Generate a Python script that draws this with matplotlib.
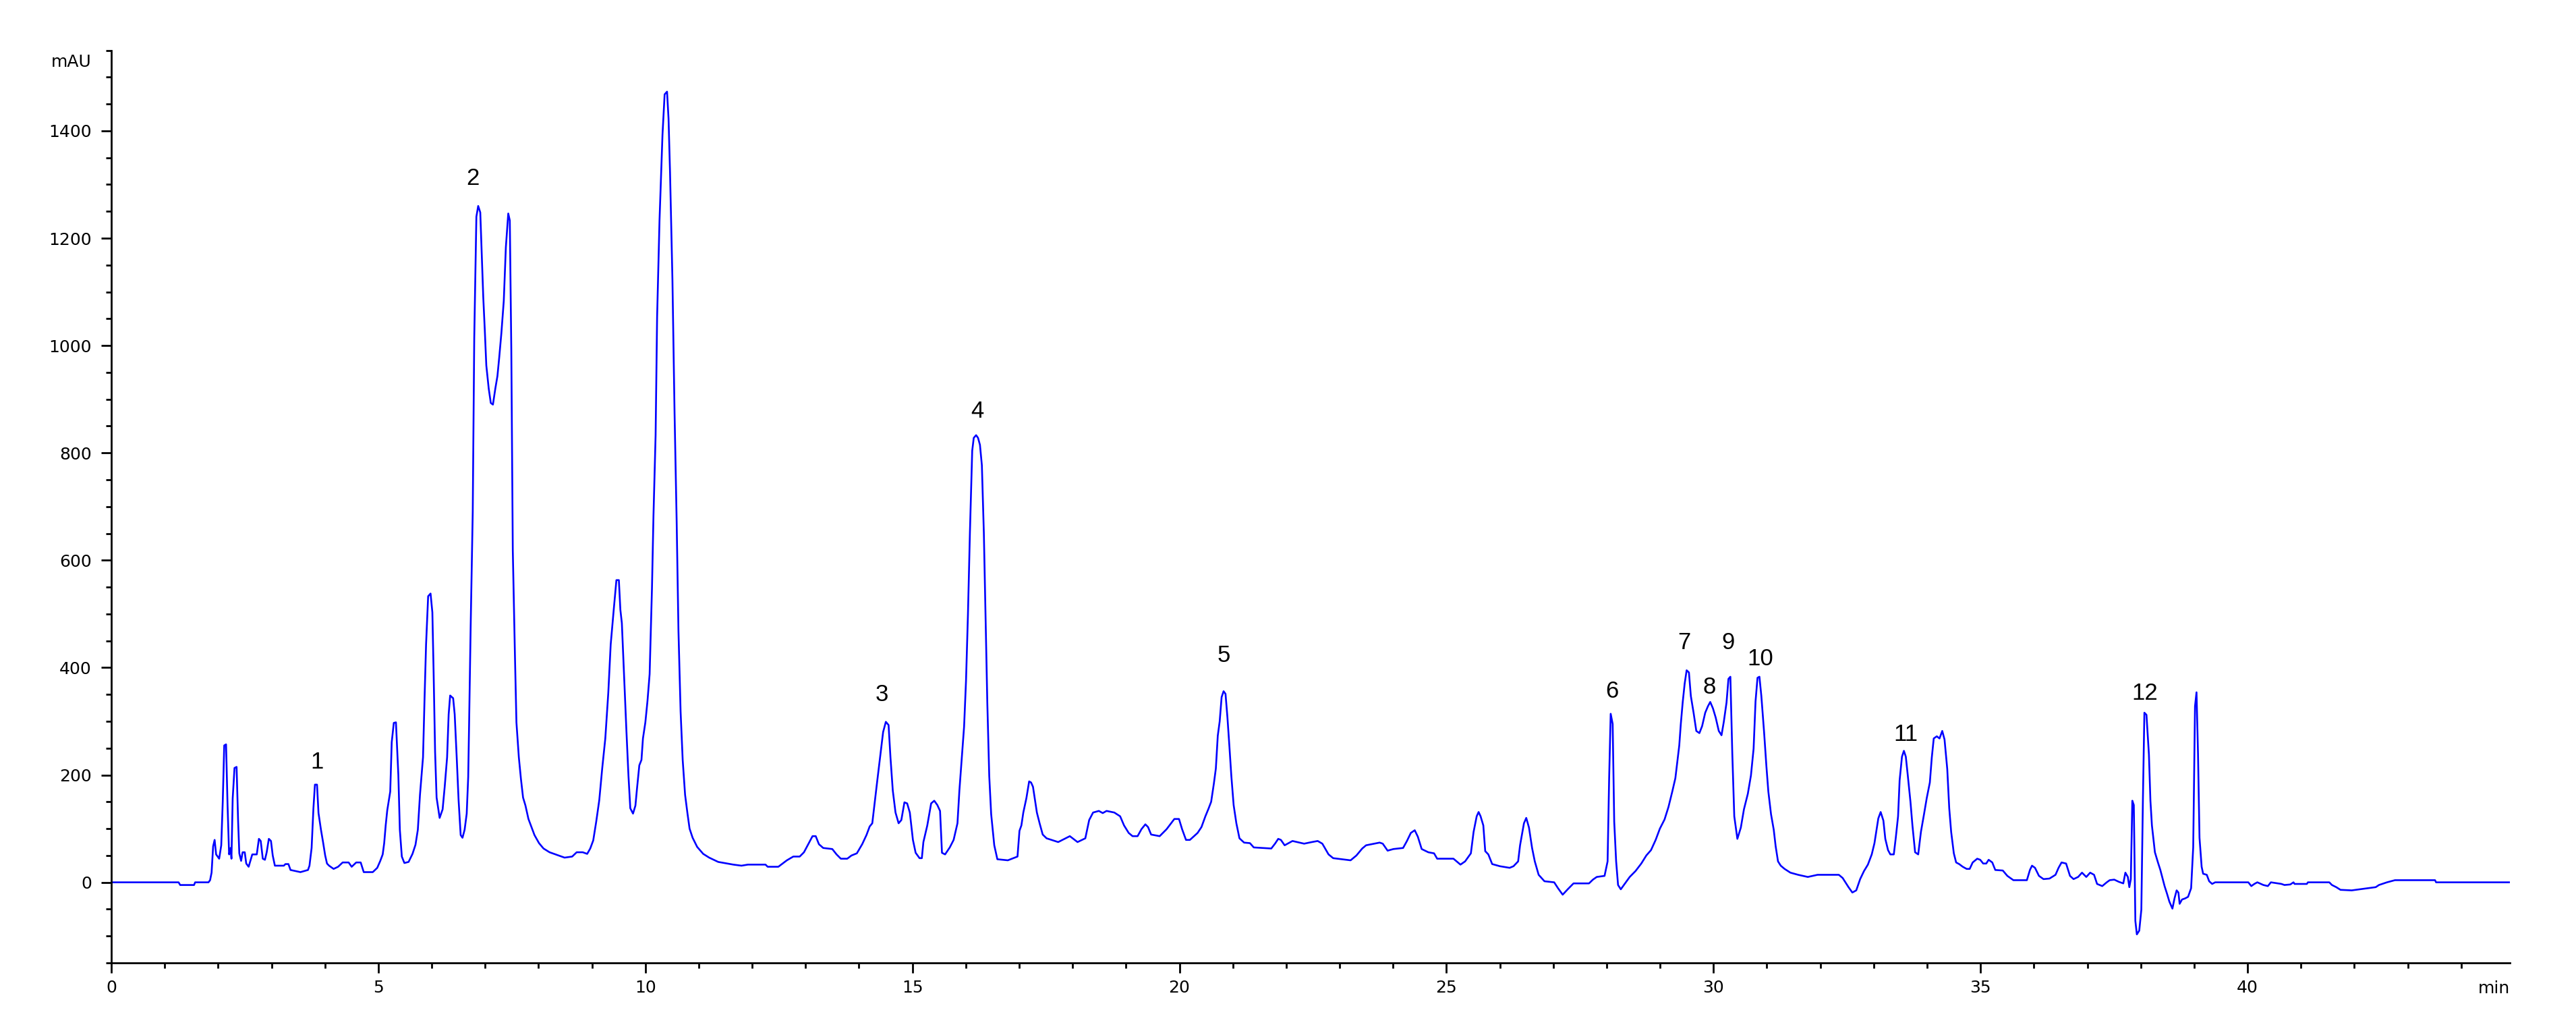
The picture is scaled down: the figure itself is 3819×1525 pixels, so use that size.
import matplotlib
matplotlib.use('Agg')
import matplotlib.pyplot as plt
from matplotlib.ticker import MultipleLocator

# chromatogram trace (time in min, signal in mAU)
time_min = [
    0.0, 1.26, 1.29, 1.55, 1.57, 1.82,
    1.85, 1.878, 1.907, 1.935, 1.963, 2.02, 2.059, 2.087, 2.115, 2.149,
    2.177, 2.206, 2.234, 2.25, 2.273, 2.307, 2.346, 2.375, 2.397, 2.431,
    2.459, 2.499, 2.527, 2.572, 2.64, 2.724, 2.764, 2.798, 2.837, 2.877,
    2.91, 2.95, 2.99, 3.023, 3.063, 3.232, 3.26, 3.317, 3.356, 3.542,
    3.683, 3.711, 3.751, 3.785, 3.813, 3.852, 3.88, 3.926, 3.965, 4.005,
    4.039, 4.078, 4.163, 4.247, 4.332, 4.444, 4.501, 4.586, 4.67, 4.727,
    4.896, 4.98, 5.037, 5.082, 5.11, 5.138, 5.167, 5.223, 5.251, 5.29,
    5.33, 5.375, 5.403, 5.44, 5.488, 5.567, 5.64, 5.696, 5.74, 5.78,
    5.837, 5.865, 5.894, 5.933, 5.978, 6.012, 6.035, 6.063, 6.091, 6.148,
    6.204, 6.243, 6.288, 6.317, 6.345, 6.401, 6.43, 6.469, 6.503, 6.542,
    6.576, 6.616, 6.655, 6.683, 6.7, 6.729, 6.768, 6.796, 6.836, 6.87,
    6.909, 6.937, 6.965, 6.994, 7.022, 7.067, 7.106, 7.146, 7.191, 7.23,
    7.264, 7.304, 7.349, 7.388, 7.433, 7.462, 7.49, 7.518, 7.558, 7.586,
    7.631, 7.67, 7.71, 7.755, 7.811, 7.868, 7.924, 8.009, 8.093, 8.206,
    8.375, 8.488, 8.63, 8.714, 8.827, 8.911, 8.968, 9.024, 9.08, 9.137,
    9.193, 9.25, 9.306, 9.351, 9.408, 9.458, 9.504, 9.532, 9.56, 9.605,
    9.645, 9.684, 9.718, 9.769, 9.814, 9.842, 9.887, 9.927, 9.955, 10.0,
    10.04, 10.08, 10.096, 10.124, 10.152, 10.192, 10.22, 10.265, 10.321, 10.361,
    10.406, 10.434, 10.462, 10.507, 10.547, 10.586, 10.62, 10.66, 10.699, 10.744,
    10.789, 10.828, 10.885, 10.97, 11.083, 11.195, 11.364, 11.647, 11.8,
    11.92, 12.25, 12.29, 12.49, 12.57, 12.65, 12.77, 12.89, 12.97, 13.05,
    13.13, 13.19, 13.25, 13.33, 13.5, 13.58, 13.66, 13.78, 13.86, 13.96,
    14.06, 14.14, 14.2,
    14.249, 14.336, 14.394, 14.452, 14.503, 14.554, 14.59, 14.633, 14.684, 14.742,
    14.793, 14.851, 14.902, 14.952, 15.01, 15.061, 15.134, 15.177, 15.206, 15.279,
    15.351, 15.409, 15.467, 15.518, 15.554, 15.612, 15.7, 15.772, 15.844, 15.88,
    15.93, 15.968, 16.004, 16.04, 16.077, 16.12, 16.149, 16.193, 16.229, 16.265,
    16.301, 16.338, 16.374, 16.403, 16.439, 16.475, 16.533, 16.591, 16.787, 16.968,
    17.005, 17.041, 17.077, 17.135, 17.186, 17.222, 17.258, 17.295, 17.331, 17.382,
    17.44, 17.512, 17.73, 17.948, 18.092, 18.238, 18.31, 18.383, 18.491, 18.564,
    18.636, 18.781, 18.89, 18.963, 19.05, 19.122, 19.217, 19.289, 19.362, 19.412,
    19.47, 19.63, 19.76, 19.905, 19.992, 20.05, 20.123, 20.196, 20.34, 20.413,
    20.486, 20.544, 20.594, 20.645, 20.682, 20.718, 20.754, 20.79, 20.827, 20.863,
    20.899, 20.936, 20.972, 21.015, 21.066, 21.124, 21.211, 21.32, 21.392, 21.72,
    21.79, 21.85, 21.9, 21.97, 22.117, 22.335, 22.48, 22.589, 22.676, 22.792,
    22.879, 23.205, 23.314, 23.423, 23.495, 23.749, 23.807,
    23.898, 24.007, 24.188, 24.26, 24.333, 24.406, 24.464, 24.536, 24.66, 24.768,
    24.826, 25.131, 25.262, 25.349, 25.457, 25.508, 25.566, 25.602, 25.639, 25.69,
    25.726, 25.784, 25.856, 26.0, 26.183, 26.255, 26.342, 26.378, 26.451, 26.494,
    26.545, 26.603, 26.654, 26.726, 26.835, 27.017, 27.089, 27.176, 27.27, 27.379,
    27.669, 27.742, 27.814, 27.96, 28.017, 28.046, 28.075, 28.112, 28.141, 28.177,
    28.213, 28.264, 28.322, 28.431, 28.54, 28.648, 28.742, 28.83, 28.917, 28.996,
    29.083, 29.156, 29.228, 29.286, 29.322, 29.359, 29.388, 29.424, 29.46, 29.497,
    29.54, 29.576, 29.627, 29.678, 29.736, 29.787, 29.845, 29.896, 29.939, 29.99,
    30.041, 30.099, 30.15, 30.193, 30.244, 30.28, 30.316, 30.352, 30.389, 30.447,
    30.512, 30.57, 30.643, 30.701, 30.751, 30.787, 30.824, 30.86, 30.896, 30.947,
    30.99, 31.027, 31.077, 31.128, 31.164, 31.208, 31.259, 31.331, 31.44, 31.585,
    31.766, 31.948, 32.347, 32.419, 32.528, 32.6, 32.673, 32.746, 32.818, 32.891,
    32.963, 33.014, 33.05, 33.086, 33.13, 33.181, 33.217, 33.268, 33.311, 33.376,
    33.413, 33.456, 33.485, 33.529, 33.565, 33.601, 33.638, 33.688, 33.725, 33.775,
    33.833, 33.884, 33.942, 33.993, 34.051, 34.087, 34.124, 34.181, 34.232, 34.283,
    34.326, 34.377, 34.414, 34.45, 34.5,
    34.543, 34.6, 34.667, 34.74, 34.797, 34.853, 34.938, 34.994, 35.05, 35.107,
    35.152, 35.22, 35.276, 35.417, 35.502, 35.615, 35.868, 35.925, 35.964, 36.02,
    36.094, 36.179, 36.291, 36.404, 36.461, 36.517, 36.602, 36.675, 36.742, 36.827,
    36.9, 36.98, 37.053, 37.126, 37.182, 37.279, 37.363, 37.419, 37.504, 37.588,
    37.673, 37.712, 37.758, 37.786, 37.814, 37.842, 37.87, 37.899, 37.927, 37.972,
    38.011, 38.04, 38.068, 38.107, 38.153, 38.181, 38.209, 38.237, 38.265, 38.322,
    38.367, 38.406, 38.446, 38.491, 38.536, 38.593, 38.632, 38.672, 38.705, 38.728,
    38.773, 38.83, 38.886, 38.943, 38.982, 39.016, 39.044, 39.072, 39.1, 39.14,
    39.168, 39.236, 39.281, 39.337, 39.393, 40.014, 40.07, 40.127, 40.183, 40.296,
    40.38, 40.437, 40.634, 40.691, 40.8,
    40.86, 40.88, 41.11, 41.13, 41.53, 41.58, 41.66, 41.74, 41.95, 42.17,
    42.4, 42.46, 42.61, 42.76, 43.51, 43.53, 44.91,
]

signal_mau = [
    0, 0, -5, -5, 0, 0,
    4, 18, 67, 79, 52, 44, 69, 150, 255, 257,
    144, 52, 64, 44, 156, 213, 215, 113, 54, 40,
    56, 56, 35, 29, 52, 52, 81, 77, 44, 42,
    56, 81, 77, 50, 31, 31, 34, 34, 23, 19,
    23, 31, 64, 138, 182, 182, 129, 98, 75, 50,
    35, 31, 25, 29, 37, 37, 29, 37, 37, 19,
    19, 27, 40, 52, 73, 106, 134, 169, 261, 297,
    298, 200, 98, 48, 36, 38, 53, 70, 98, 163,
    233, 340, 443, 533, 538, 503, 393, 243, 158, 120,
    136, 178, 233, 313, 348, 343, 313, 230, 153, 88,
    83, 98, 128, 196, 296, 476, 690, 1013, 1240, 1260,
    1248, 1168, 1090, 1028, 963, 920, 893, 890, 920, 943,
    978, 1023, 1083, 1183, 1246, 1233, 993, 618, 423, 298,
    233, 193, 158, 143, 118, 103, 88, 73, 63, 56,
    50, 46, 48, 56, 56, 53, 63, 78, 113, 153,
    213, 268, 353, 443, 508, 563, 563, 508, 483, 378,
    283, 198, 138, 128, 143, 173, 218, 228, 268, 298,
    338, 388, 448, 548, 683, 833, 1053, 1233, 1393, 1468,
    1473, 1423, 1323, 1123, 873, 673, 468, 318, 228, 163,
    128, 100, 83, 66, 53, 46, 38, 33, 31,
    33, 33, 29, 29, 35, 41, 48, 48, 56, 71,
    86, 86, 71, 64, 62, 52, 44, 44, 50, 54,
    71, 88, 104,
    110, 184, 232, 280, 299, 293, 232, 171, 130, 110,
    116, 149, 147, 130, 79, 55, 45, 45, 75, 106,
    147, 152, 144, 133, 55, 52, 65, 79, 110, 171,
    239, 290, 375, 498, 651, 804, 828, 833, 828, 815,
    777, 651, 477, 334, 198, 127, 69, 43, 41, 48,
    96, 106, 130, 157, 188, 186, 178, 154, 130, 110,
    89, 82, 75, 86, 75, 82, 116, 130, 133, 129,
    133, 130, 123, 106, 92, 86, 86, 99, 108, 103,
    89, 86, 99, 118, 118, 99, 79, 79, 92, 103,
    123, 137, 150, 184, 212, 273, 300, 345, 356, 351,
    307, 253, 198, 144, 110, 82, 74, 73, 65, 63,
    72, 81, 79, 69, 77, 72, 75, 77, 72, 52,
    45, 41, 50, 63, 69, 74, 72,
    59, 62, 64, 77, 92, 97, 85, 62, 56, 54,
    44, 44, 33, 39, 54, 94, 123, 131, 123, 106,
    58, 52, 34, 30, 27, 30, 39, 69, 110, 120,
    102, 64, 39, 14, 2, 0, -11, -23, -13, -2,
    -2, 5, 10, 12, 39, 194, 314, 295, 113, 39,
    -5, -13, -5, 10, 21, 35, 50, 60, 79, 100,
    117, 140, 169, 194, 224, 255, 295, 336, 370, 395,
    391, 347, 316, 282, 278, 291, 316, 328, 336, 324,
    307, 282, 274, 299, 335, 379, 383, 240, 123, 81,
    102, 136, 165, 199, 249, 337, 381, 383, 347, 280,
    217, 169, 127, 98, 67, 39, 31, 25, 18, 14,
    10, 14, 14, 8, -9, -19, -15, 6, 21, 33,
    52, 73, 96, 119, 131, 115, 81, 60, 52, 52,
    83, 123, 190, 234, 245, 234, 199, 150, 106, 56,
    52, 94, 127, 157, 186, 232, 268, 272, 268, 282,
    266, 211, 138, 94, 54,
    37, 34, 29, 25, 25, 37, 44, 42, 35, 35,
    42, 37, 23, 22, 12, 4, 4, 23, 31, 27,
    12, 6, 7, 14, 27, 37, 35, 12, 6, 10,
    18, 10, 18, 14, -3, -7, 0, 4, 5, 1,
    -2, 18, 10, -9, 6, 152, 144, -72, -97, -90,
    -51, 152, 316, 312, 238, 152, 106, 81, 56, 37,
    23, 8, -7, -21, -36, -49, -30, -15, -19, -40,
    -32, -30, -27, -11, 65, 328, 354, 240, 83, 29,
    16, 14, 2, -3, 0, 0, -7, -3, 0, -5,
    -7, 0, -3, -5, -4,
    0, -3, -3, 0, 0, -5, -9, -14, -15, -12,
    -9, -5, 0, 4, 4, 0, 0,
]

# peak numbers and where they sit (min, mAU)
peak_labels = ['1', '2', '3', '4', '5', '6', '7', '8', '9', '10', '11', '12']
peak_label_time = [3.85, 6.77, 14.43, 16.22, 20.83, 28.1, 29.45, 29.92, 30.27, 30.88, 33.6, 38.07]
peak_label_mau = [224, 1311, 349, 878, 423, 356, 446, 363, 446, 416, 275, 352]

plt.rcParams['font.family'] = ['DejaVu Sans']

fig = plt.figure(figsize=(38.19, 15.25), dpi=100)
ax = fig.add_axes([0.0432, 0.0643, 0.9311, 0.8868])

ax.plot(time_min, signal_mau, color='#0000ff', lw=1.9)

for lab, t, y in zip(peak_labels, peak_label_time, peak_label_mau):
    ax.text(t, y, lab, ha='center', va='center', fontsize=25,
            family=['Liberation Sans', 'DejaVu Sans'], color='black')

ax.set_xlim(0, 44.91)
ax.set_ylim(-150, 1550)
ax.set_xticks(range(0, 41, 5))
ax.xaxis.set_minor_locator(MultipleLocator(1))
ax.set_yticks(range(0, 1401, 200))
ax.yaxis.set_minor_locator(MultipleLocator(50))

ax.spines['top'].set_visible(False)
ax.spines['right'].set_visible(False)
ax.spines['left'].set_linewidth(2)
ax.spines['bottom'].set_linewidth(2)
ax.tick_params(which='major', direction='out', length=11, width=2, labelsize=18)
ax.tick_params(which='minor', direction='out', length=5.5, width=2)
ax.tick_params(axis='y', which='major', pad=10)
ax.tick_params(axis='x', which='major', pad=7)

fig.text(135 / 3819, 1 - 92 / 1525, 'mAU', ha='right', va='center', fontsize=18)
fig.text(3721 / 3819, 1 - 1465 / 1525, 'min', ha='right', va='center', fontsize=18)

fig.savefig('out.png', dpi=100)
